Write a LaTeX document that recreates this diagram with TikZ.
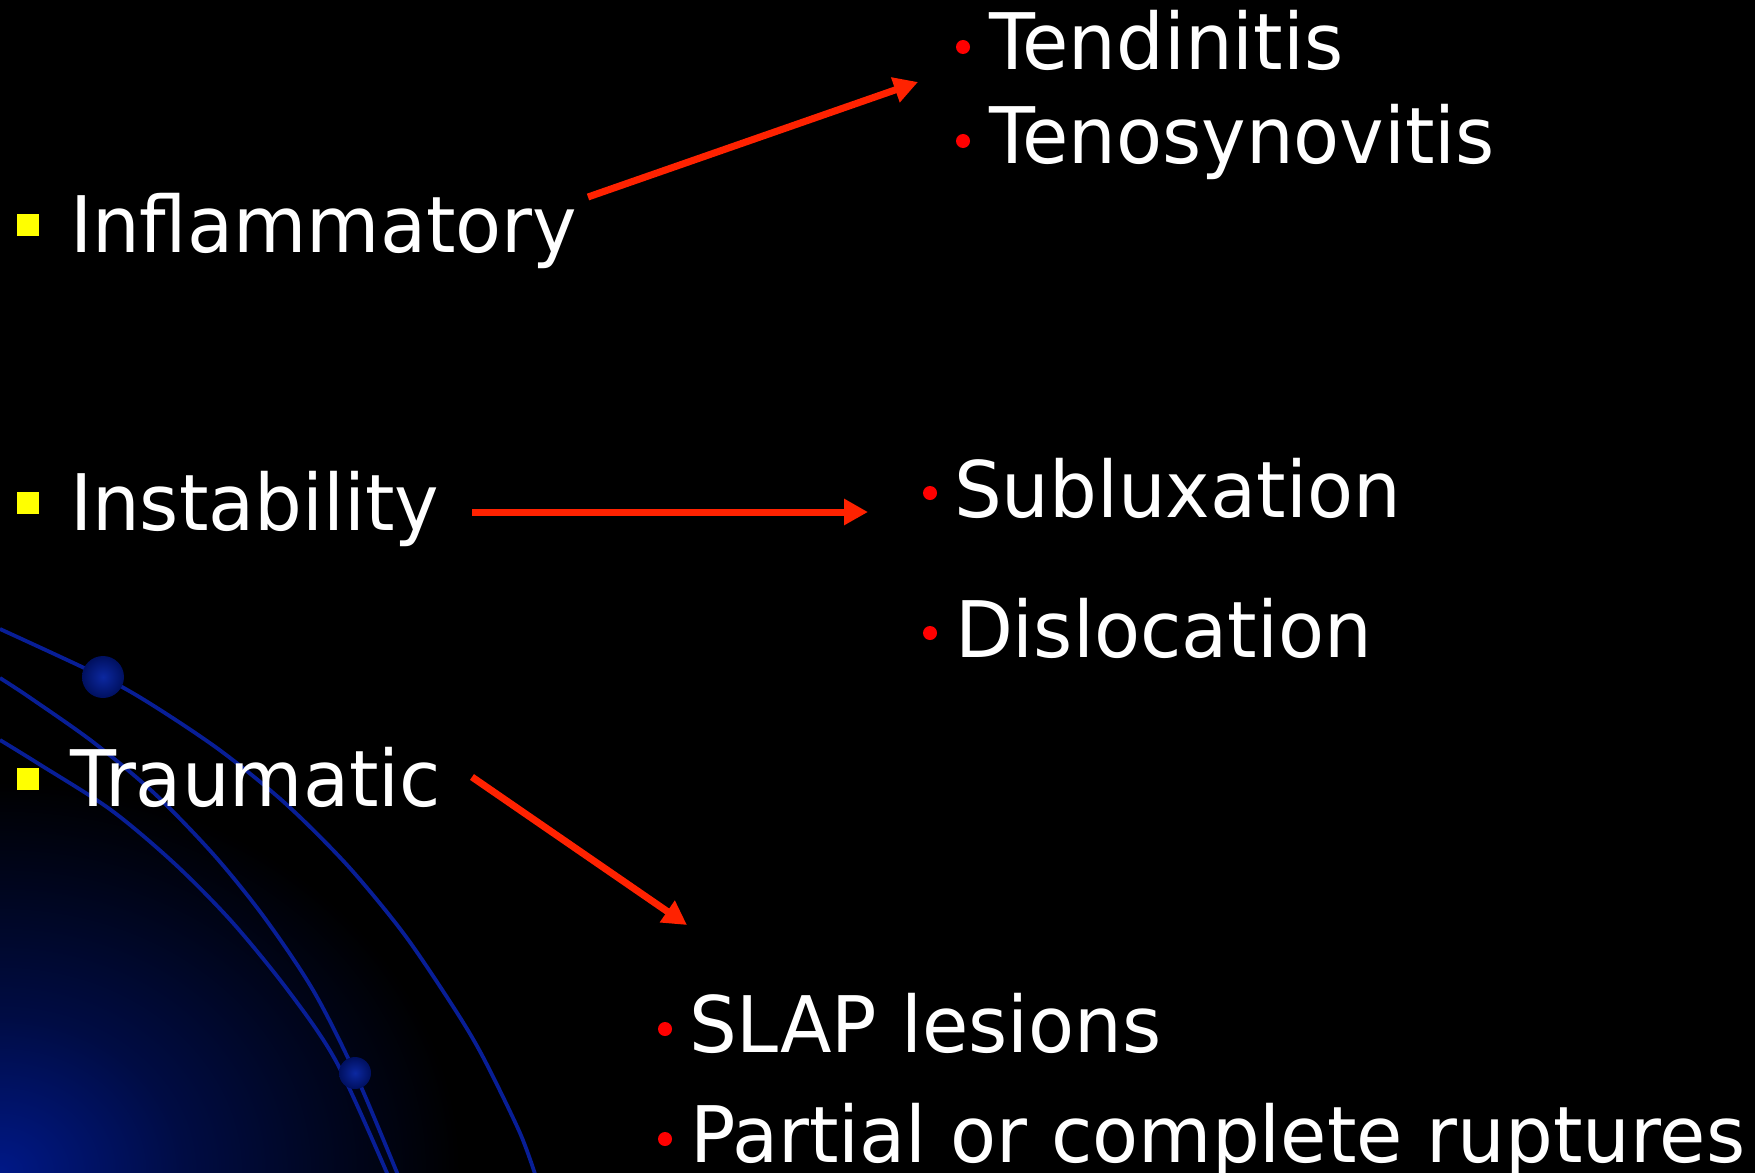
\documentclass[tikz,border=0pt]{standalone}
\usepackage{fontspec}
\setmainfont[FakeStretch=0.965]{DejaVu Sans}
\usetikzlibrary{arrows.meta}
\definecolor{arrowred}{RGB}{255,34,0}
\definecolor{bulletyellow}{RGB}{255,255,0}
\definecolor{dotred}{RGB}{255,0,0}
\definecolor{arcblue}{RGB}{8,30,150}
\definecolor{glowblue}{RGB}{0,24,135}
\definecolor{ballin}{RGB}{12,40,160}
\definecolor{ballout}{RGB}{0,16,95}
\pgfdeclareradialshading{glow}{\pgfpoint{0bp}{0bp}}{color(0bp)=(glowblue); color(10bp)=(glowblue!50!black); color(25bp)=(black); color(50bp)=(black)}
\newcommand\slidefont{\fontsize{39pt}{46pt}\selectfont}
\tikzset{
  txt/.style={anchor=base west, inner sep=0pt, outer sep=0pt, text=white, font=\slidefont},
  arr/.style={draw=arrowred, line width=3.5pt, -{Triangle[length=12pt,width=12.5pt]}},
  arcline/.style={draw=arcblue, line width=1.9pt},
  ballshade/.style={inner color=ballin, outer color=ballout},
  sqbullet/.style={fill=bulletyellow},
  dotbullet/.style={fill=dotred}
}
\begin{document}
\begin{tikzpicture}[x=0.5pt,y=-0.5pt]
\useasboundingbox (0,0) rectangle (1755,1172);
\fill[black] (-10,-10) rectangle (1765,1182);
\begin{scope}
  \clip (-2,-2) rectangle (1757,1176);
  \shade[shading=glow] (0,1172) ellipse [x radius=230pt, y radius=195pt];
  \draw[arcline] plot[smooth] coordinates {(0,629) (103,677) (154,706) (221,751) (286,804) (348,866) (404,934) (454,1008) (483,1057) (520,1133) (537,1180)};
  \draw[arcline] plot[smooth] coordinates {(0,678) (29,697) (93,742) (154,793) (214,855) (264,917) (313,990) (355,1073) (400,1180)};
  \draw[arcline] plot[smooth] coordinates {(0,740) (39,764) (111,810) (175,864) (233,923) (290,993) (337,1063) (390,1180)};
  \shade[ballshade] (103,677) circle (10.5pt);
  \shade[ballshade] (355,1073) circle (8pt);
\end{scope}

% left column
\fill[sqbullet] (17,214) rectangle (39,236);
\node[txt] (infl) at (70,252) {Inflammatory};
\fill[sqbullet] (17,492) rectangle (39,514);
\node[txt] (inst) at (70,530) {Instability};
\fill[sqbullet] (17,768) rectangle (39,790);
\node[txt] (traum) at (70,806) {Traumatic};

% right items
\fill[dotbullet] (963,47) circle (3.5pt);
\node[txt] (tend) at (989,70) {Tendinitis};
\fill[dotbullet] (963,141) circle (3.5pt);
\node[txt] (teno) at (989,163) {Tenosynovitis};
\fill[dotbullet] (930,493) circle (3.5pt);
\node[txt] (subl) at (954,517) {Subluxation};
\fill[dotbullet] (930,633) circle (3.5pt);
\node[txt] (disl) at (955,657) {Dislocation};
\fill[dotbullet] (665,1029) circle (3.5pt);
\node[txt] (slap) at (689,1052) {SLAP lesions};
\fill[dotbullet] (665,1139) circle (3.5pt);
\node[txt] (part) at (690,1162) {Partial or complete ruptures};

% arrows
\coordinate (a1s) at (588,197);
\coordinate (a1e) at (918,82);
\coordinate (a2s) at (472,512);
\coordinate (a2e) at (868,512);
\coordinate (a3s) at (472,777);
\coordinate (a3e) at (687,925);
\draw[arr] (a1s) -- (a1e);
\draw[arr] (a2s) -- (a2e);
\draw[arr] (a3s) -- (a3e);
\end{tikzpicture}
\end{document}
